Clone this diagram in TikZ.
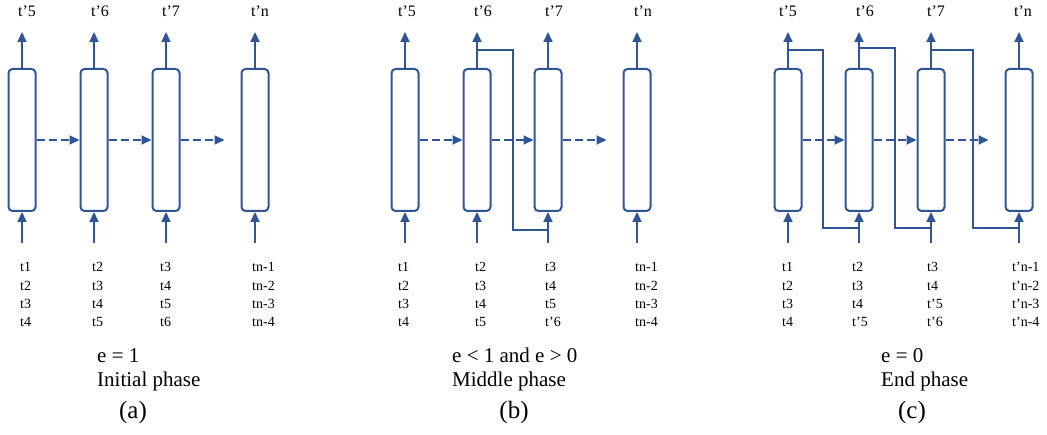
\documentclass[tikz,border=0pt]{standalone}
\usepackage{fontspec}
\setmainfont{Liberation Serif}
\usetikzlibrary{arrows.meta,calc}
\definecolor{cblue}{RGB}{47,85,151}
\tikzset{
  cell/.style={draw=cblue,line width=2pt,rounded corners=4pt,minimum width=27pt,minimum height=142pt,inner sep=0pt},
  arr/.style={draw=cblue,line width=2pt,-{Triangle[length=10pt,width=9pt]}},
  darr/.style={draw=cblue,line width=2pt,dash pattern=on 8pt off 4pt,-{Triangle[length=10pt,width=9pt]}},
  fb/.style={draw=cblue,line width=1.3pt},
  lbl/.style={anchor=base west,inner sep=0pt,font=\fontsize{14}{16}\selectfont},
  toplbl/.style={anchor=base west,inner sep=0pt,font=\fontsize{16}{18}\selectfont},
  phase/.style={anchor=base west,inner sep=0pt,font=\fontsize{21}{24}\selectfont},
  sublabel/.style={anchor=base,inner sep=0pt,font=\fontsize{25}{30}\selectfont}
}
\newcommand{\colm}[6]{%
  \node[lbl] (#1r1) at (#2,272) {#3};
  \node[lbl] (#1r2) at (#2,290.5) {#4};
  \node[lbl] (#1r3) at (#2,309) {#5};
  \node[lbl] (#1r4) at (#2,327) {#6};}
\begin{document}
\begin{tikzpicture}[x=1pt,y=-1pt]
\useasboundingbox (0,0) rectangle (1047,435);
% ---------- cells ----------
\foreach \p/\xa/\xb/\xc/\xd in {a/22/94/166/255, b/405/477/548/637, c/788/859/931/1019}{
  \node[cell] (\p1) at (\xa,140) {};
  \node[cell] (\p2) at (\xb,140) {};
  \node[cell] (\p3) at (\xc,140) {};
  \node[cell] (\p4) at (\xd,140) {};
  \foreach \i/\x in {1/\xa,2/\xb,3/\xc,4/\xd}{
    \coordinate (\p\i t) at (\x,32);
    \coordinate (\p\i b) at (\x,243);
    \draw[arr] (\p\i.north) -- (\p\i t);
    \draw[arr] (\p\i b) -- (\p\i.south);
  }
  \coordinate (\p e) at ($(\p4.west)+(-16,0)$);
  \draw[darr] (\p1.east) -- (\p2.west);
  \draw[darr] (\p2.east) -- (\p3.west);
  \draw[darr] (\p3.east) -- (\p e);
}
% ---------- feedback lines ----------
\coordinate (b2f) at (477,50);
\coordinate (b3j) at (548,230);
\draw[fb] (b2f) -- (513,50) |- (b3j);
\coordinate (c1f) at (788,50);
\coordinate (c2j) at (859,228);
\draw[fb] (c1f) -- (823,50) |- (c2j);
\coordinate (c2f) at (859,48);
\coordinate (c3j) at (931,228);
\draw[fb] (c2f) -- (895,48) |- (c3j);
\coordinate (c3f) at (931,50);
\coordinate (c4j) at (1019,228);
\draw[fb] (c3f) -- (973,50) |- (c4j);
% ---------- top labels ----------
\foreach \x/\t [count=\k] in {18/t’5, 91/t’6, 162/t’7, 251/t’n,
                   398/t’5, 474/t’6, 545/t’7, 634/t’n,
                   779/t’5, 856/t’6, 927/t’7, 1014/t’n}{
  \node[toplbl] (top\k) at (\x,17) {\t};
}
% ---------- bottom columns ----------
\colm{aa}{20}{t1}{t2}{t3}{t4}
\colm{ab}{92}{t2}{t3}{t4}{t5}
\colm{ac}{160}{t3}{t4}{t5}{t6}
\colm{ad}{252}{tn-1}{tn-2}{tn-3}{tn-4}
\colm{ba}{398}{t1}{t2}{t3}{t4}
\colm{bb}{475}{t2}{t3}{t4}{t5}
\colm{bc}{545}{t3}{t4}{t5}{t’6}
\colm{bd}{635}{tn-1}{tn-2}{tn-3}{tn-4}
\colm{ca}{782}{t1}{t2}{t3}{t4}
\colm{cb}{852}{t2}{t3}{t4}{t’5}
\colm{cc}{927}{t3}{t4}{t’5}{t’6}
\colm{cd}{1012}{t’n-1}{t’n-2}{t’n-3}{t’n-4}
% ---------- phase captions ----------
\node[phase] (ea) at (97,363) {e = 1};
\node[phase] (pa) at (97,387) {Initial phase};
\node[sublabel] (la) at (133,418) {(a)};
\node[phase] (eb) at (452,363) {e < 1 and e > 0};
\node[phase] (pb) at (452,387) {Middle phase};
\node[sublabel] (lb) at (514,418) {(b)};
\node[phase] (ec) at (881,363) {e = 0};
\node[phase] (pc) at (881,387) {End phase};
\node[sublabel] (lc) at (912,418) {(c)};
\end{tikzpicture}
\end{document}
